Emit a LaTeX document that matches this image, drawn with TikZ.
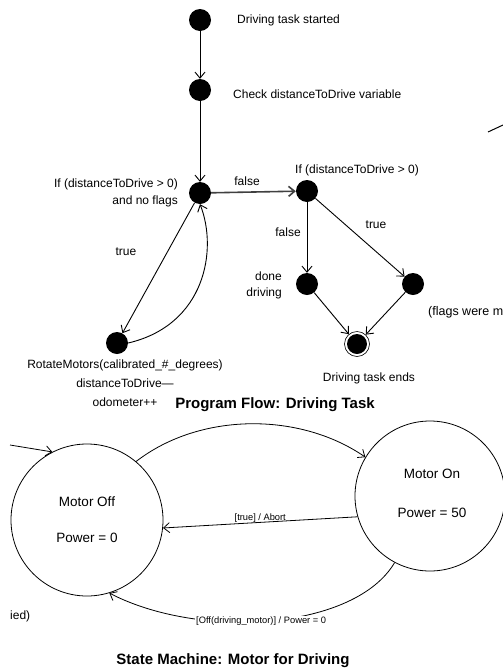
\documentclass[tikz,border=0pt]{standalone}
\usepackage{fontspec}
\setmainfont{Liberation Sans}
\usetikzlibrary{arrows.meta}
\begin{document}
\begin{tikzpicture}[x=1pt,y=-1pt,
  dot/.style={circle,fill=black,minimum size=22pt,inner sep=0pt},
  lbl/.style={font=\fontsize{12}{19}\selectfont,inner sep=0pt},
  ttl/.style={font=\bfseries\fontsize{15}{17}\selectfont,inner sep=0pt},
  smtxt/.style={font=\fontsize{13.5}{15}\selectfont,inner sep=0pt},
  tlbl/.style={font=\fontsize{9.3}{10}\selectfont,inner sep=1pt},
  arr/.style={-{Straight Barb[length=6pt,width=10pt]},line width=0.9pt},
  state/.style={circle,draw,line width=0.8pt,inner sep=0pt}]
\useasboundingbox (0,0) rectangle (503,670);
\clip (0,0) rectangle (503,670);
% ---- program flow ----
\node[dot] (n1) at (200,20) {};
\node[dot] (n2) at (200,90) {};
\node[dot] (n3) at (200,193) {};
\node[dot] (n4) at (307,191) {};
\node[dot] (n5) at (307,284) {};
\node[dot] (n6) at (413,284) {};
\node[dot,minimum size=20pt] (n7) at (357,344) {};
\node[circle,draw,line width=0.6pt,minimum size=25pt,inner sep=0pt] (n7r) at (n7) {};
\node[dot] (n8) at (117,343) {};

\node[lbl,anchor=west] (t1) at (237,20) {Driving task started};
\node[lbl,anchor=west] (t2) at (233,94) {Check distanceToDrive variable};
\node[lbl,anchor=east,align=right,font=\fontsize{12}{17}\selectfont] (t3) at (178,193) {If (distanceToDrive > 0)\\and no flags};
\node[lbl,anchor=west] (t4) at (295,170) {If (distanceToDrive > 0)};
\node[lbl] (f1) at (247,181) {false};
\node[lbl] (f2) at (288,232) {false};
\node[lbl] (tr1) at (376,225) {true};
\node[lbl] (tr2) at (126,252) {true};
\node[lbl,anchor=east,align=right,font=\fontsize{12}{16}\selectfont] (t5) at (282,285) {done\\driving};
\node[lbl,anchor=west,font=\fontsize{12.5}{16}\selectfont] (t6) at (428,312) {(flags were m};
\node[lbl] (t7) at (369,378) {Driving task ends};
\node[lbl,align=center] (t8) at (125,383) {RotateMotors(calibrated\_\#\_degrees)\\distanceToDrive—\\odometer++};
\node[ttl] (title1) at (275,405) {Program Flow: Driving Task};

\draw[arr] (n1) -- (n2);
\draw[arr] (n2) -- (n3);
\draw[arr] (n3) -- (n8);
\draw[arr] (n8.east) .. controls (205,325) and (218,250) .. (n3.south);
\draw[arr,line width=1.6pt,draw=black!75] (n3) -- (n4);
\draw[arr] (n4) -- (n5);
\draw[arr] (n4) -- (n6);
\draw[arr] (n5) -- (n7r);
\draw[arr] (n6) -- (n7r);

\coordinate (s1) at (488,132);
\coordinate (s2) at (503,125);
\draw[line width=1pt] (s1) -- (s2);

% ---- state machine ----
\node[state,minimum size=152pt] (off) at (87,520) {};
\node[state,minimum size=150pt] (on) at (430,496) {};
\node[smtxt] (offa) at (87,502) {Motor Off};
\node[smtxt] (offb) at (87,538) {Power = 0};
\node[smtxt] (ona) at (432,474) {Motor On};
\node[smtxt] (onb) at (432,513) {Power = 50};

\coordinate (init) at (10,445);
\draw[arr,line width=0.8pt] (init) -- (off.117);
\draw[arr,line width=0.8pt] (off.50) .. controls (200,412) and (300,412) .. (on.149);
\draw[arr,line width=0.8pt] (on.196) -- (off.-6) node[tlbl,pos=0.5,above,yshift=-1pt] {[true] / Abort};
\draw[arr,line width=0.8pt] (on.242) .. controls (355,630) and (200,640) .. (off.287)
  node[tlbl,pos=0.53,fill=white] {[Off(driving\_motor)] / Power = 0};
\node[ttl] (title2) at (233,661) {State Machine: Motor for Driving};
\node[lbl,anchor=west] (t9) at (10,616) {ied)};
\end{tikzpicture}
\end{document}
